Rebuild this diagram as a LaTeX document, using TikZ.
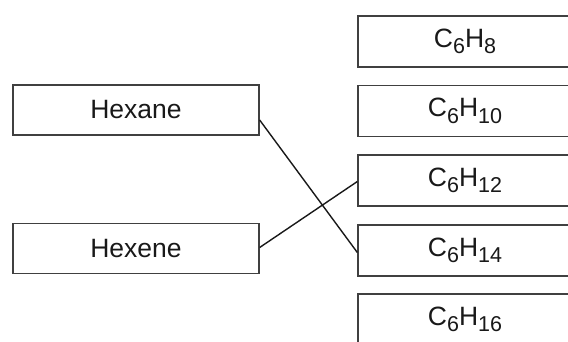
\documentclass[tikz,border=0pt]{standalone}
\usepackage{fontspec}
\setmainfont{Liberation Sans}
% chemical subscript
\newcommand{\chsub}[1]{\raisebox{-0.25em}{\fontsize{21.5}{24}\selectfont #1}}
\begin{document}
\begin{tikzpicture}[x=1pt,y=-1pt,
  box/.style={draw=black!75, line width=1.3pt, rectangle, inner sep=0pt,
    font=\fontsize{26.5}{30}\selectfont, text=black!90},
  namebox/.style={box, minimum width=246pt, minimum height=50pt},
  formbox/.style={box, minimum width=214pt, minimum height=51pt},
  link/.style={draw=black!90, line width=1.4pt}]
\useasboundingbox (0,0) rectangle (568,342);
\fill[white] (0,0) rectangle (568,342);
% names on the left
\node[namebox] (hexane) at (136,110) {Hexane};
\node[namebox] (hexene) at (136,248.5) {Hexene};
% formulas on the right
\node[formbox] (f8)  at (465,41.5)  {\raisebox{2pt}{C\chsub{6}H\chsub{8}}};
\node[formbox] (f10) at (465,111)   {\raisebox{2pt}{C\chsub{6}H\chsub{10}}};
\node[formbox] (f12) at (465,180.5) {\raisebox{2pt}{C\chsub{6}H\chsub{12}}};
\node[formbox] (f14) at (465,250.5) {\raisebox{2pt}{C\chsub{6}H\chsub{14}}};
\node[formbox] (f16) at (465,319.5) {\raisebox{2pt}{C\chsub{6}H\chsub{16}}};
% answer links
\draw[link] ([yshift=-10pt]hexane.east) -- ([yshift=-2pt]f14.west);
\draw[link] ([yshift=1pt]hexene.east) -- ([yshift=-1pt]f12.west);
\end{tikzpicture}
\end{document}
